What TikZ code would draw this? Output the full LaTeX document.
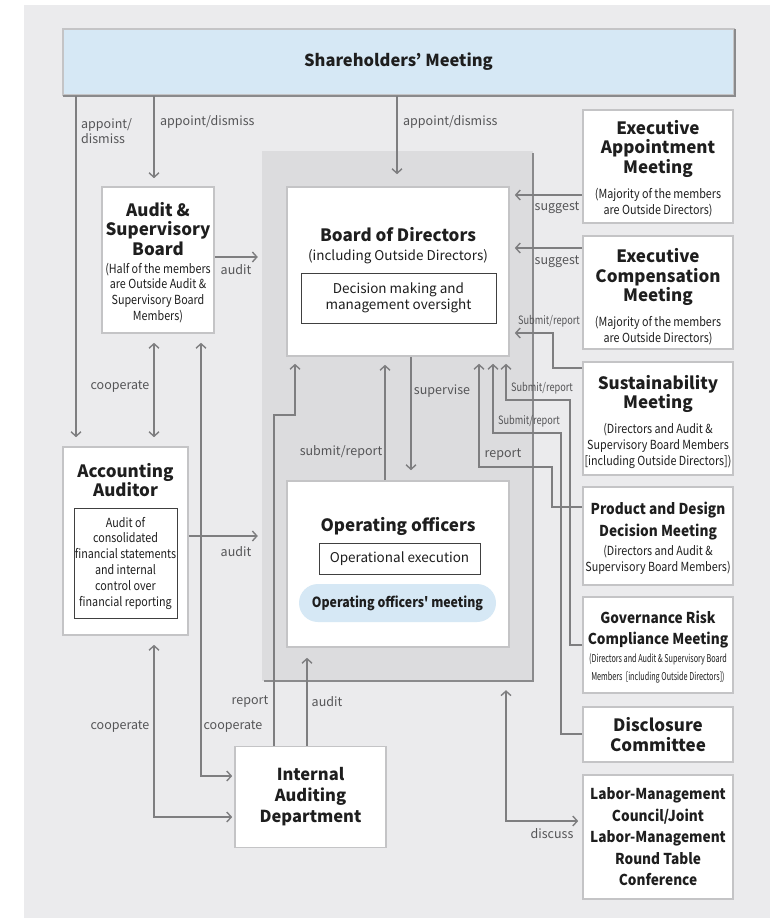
\documentclass[tikz,border=0pt]{standalone}
\usepackage{fontspec}
\setmainfont{Noto Sans CJK JP}
\newfontfamily\condfont[FakeStretch=0.86]{Noto Sans CJK JP}
\newfontfamily\tinycondfont[FakeStretch=0.67]{Noto Sans CJK JP}
\newfontfamily\lblcondfont[FakeStretch=0.8]{Noto Sans CJK JP}
\newfontfamily\midfont[FakeStretch=0.91]{Noto Sans CJK JP}
\newfontfamily\pillfont[Ligatures=TeXOff, FakeStretch=0.88]{Noto Sans CJK JP}
\usetikzlibrary{arrows.meta}
\definecolor{bgout}{HTML}{EBEBED}
\definecolor{bgin}{HTML}{DCDCDE}
\definecolor{lblue}{HTML}{D6E8F5}
\definecolor{boxline}{HTML}{C4C4C6}
\definecolor{connc}{HTML}{7E7E80}
\definecolor{shadowc}{HTML}{8A8A8C}
\definecolor{txtc}{HTML}{1E1E1E}
\definecolor{lblc}{HTML}{555557}
\newcommand\fTitle{\bfseries\fontsize{17}{19.5}\selectfont}
\newcommand\fIA{\bfseries\fontsize{16.5}{21}\selectfont}
\newcommand\fMid{\midfont\bfseries\fontsize{15}{21.5}\selectfont}
\newcommand\fSub{\condfont\fontsize{12.5}{15.8}\selectfont}
\newcommand\fTiny{\tinycondfont\fontsize{10.8}{17.5}\selectfont}
\newcommand\fLbl{\fontsize{12.5}{15}\selectfont}
\newcommand\fSmallLbl{\lblcondfont\fontsize{11.5}{14}\selectfont}
\begin{document}
\begin{tikzpicture}[x=1pt,y=-1pt,
  box/.style={draw=boxline, line width=1.6pt, fill=white, inner sep=0pt},
  ibox/.style={draw=txtc!85, line width=0.9pt, fill=white, inner sep=0pt},
  txt/.style={text=txtc, inner sep=0pt, align=center},
  lbl/.style={text=lblc, font=\fLbl, inner sep=0pt, align=left},
  slbl/.style={text=lblc, font=\fSmallLbl, inner sep=0pt},
  con/.style={draw=connc, line width=1.4pt, -{Straight Barb[length=4.5pt,width=10pt]}},
  dcon/.style={draw=connc, line width=1.4pt, {Straight Barb[length=4.5pt,width=10pt]}-{Straight Barb[length=4.5pt,width=10pt]}},
  shline/.style={draw=shadowc, line width=1.8pt}]
\useasboundingbox (0,0) rectangle (780,918);
\fill[white] (0,0) rectangle (780,918);
\fill[bgout] (24,5) rectangle (770,918);

% core grey region
\node[fill=bgin, inner sep=0pt, minimum width=271pt, minimum height=530pt] (core) at (397.5,416) {};
\draw[shline] ([xshift=2pt]core.south west) -- (core.south east) -- ([yshift=-2pt]core.north east);

% shareholders
\node[draw=boxline, fill=lblue, line width=1.2pt, inner sep=0pt, minimum width=671pt, minimum height=66pt, text=txtc, font=\bfseries\fontsize{16.5}{19}\selectfont] (sh) at (398.5,62) {Shareholders’ Meeting};
\draw[shline] ([xshift=1pt]sh.south west) -- (sh.south east) -- ([yshift=-1pt]sh.north east);

% audit & supervisory board
\node[box, minimum width=112pt, minimum height=146pt] (asb) at (158,260) {};
\node[txt, font=\fTitle] (asbT) at (158,229) {Audit \&\\Supervisory\\Board};
\node[txt, font=\fSub] (asbS) at (158,293) {(Half of the members\\are Outside Audit \&\\Supervisory Board\\Members)};

% accounting auditor
\node[box, minimum width=125pt, minimum height=188pt] (aa) at (125.5,541) {};
\node[txt, font=\fTitle] (aaT) at (125.5,480) {Accounting\\Auditor};
\node[ibox, minimum width=103pt, minimum height=110pt, txt, font=\fSub] (aaI) at (125.5,563) {Audit of\\consolidated\\financial statements\\and internal\\control over\\financial reporting};

% board of directors
\node[box, minimum width=222pt, minimum height=169pt] (bod) at (398,271.5) {};
\node[txt, font=\fTitle] (bodT) at (398,235) {Board of Directors};
\node[txt, font=\fontsize{13.5}{16}\selectfont] (bodS) at (398,257) {(including Outside Directors)};
\node[ibox, minimum width=195pt, minimum height=50pt, txt, font=\fontsize{13.5}{16.5}\selectfont] (bodI) at (398.5,298) {Decision making and\\management oversight};

% operating officers
\node[box, minimum width=222pt, minimum height=166pt] (op) at (398,564) {};
\node[txt, font=\fTitle] (opT) at (398,526) {Operating officers};
\node[ibox, minimum width=161pt, minimum height=31pt, txt, font=\fontsize{13.5}{16}\selectfont] (opI) at (399.5,558.5) {Operational execution};
\node[fill=lblue, rounded corners=19pt, minimum width=197pt, minimum height=38pt, txt, font=\pillfont\bfseries\fontsize{14}{16}\selectfont] (opM) at (397.5,603) {Operating officers' meeting};

% internal auditing
\node[box, minimum width=151pt, minimum height=101pt, txt, font=\fIA] (ia) at (310.5,797) {Internal\\Auditing\\Department};

% right column
\node[box, minimum width=150pt, minimum height=113pt] (eam) at (658,166.5) {};
\node[txt, font=\fTitle] (eamT) at (658,148.5) {Executive\\Appointment\\Meeting};
\node[txt, font=\fSub] (eamS) at (658,203) {(Majority of the members\\are Outside Directors)};

\node[box, minimum width=150pt, minimum height=113pt] (ecm) at (658,292.5) {};
\node[txt, font=\fTitle] (ecmT) at (658,277) {Executive\\Compensation\\Meeting};
\node[txt, font=\fSub] (ecmS) at (658,331) {(Majority of the members\\are Outside Directors)};

\node[box, minimum width=150pt, minimum height=113pt] (sus) at (658,418.5) {};
\node[txt, font=\fTitle] (susT) at (658,394) {Sustainability\\Meeting};
\node[txt, font=\fSub] (susS) at (658,446) {(Directors and Audit \&\\Supervisory Board Members\\{}[including Outside Directors])};

\node[box, minimum width=150pt, minimum height=98pt] (pdd) at (658,536) {};
\node[txt, font=\fMid] (pddT) at (658,521) {Product and Design\\Decision Meeting};
\node[txt, font=\fSub] (pddS) at (658,559.5) {(Directors and Audit \&\\Supervisory Board Members)};

\node[box, minimum width=150pt, minimum height=96pt] (grc) at (658,645) {};
\node[txt, font=\fMid] (grcT) at (658,629.5) {Governance Risk\\Compliance Meeting};
\node[txt, font=\fTiny] (grcS) at (658,668.5) {(Directors and Audit \& Supervisory Board\\Members\ \ {}[including Outside Directors])};

\node[box, minimum width=150pt, minimum height=55pt, txt, font=\fTitle] (dc) at (658,734.5) {Disclosure\\Committee};

\node[box, minimum width=150pt, minimum height=124pt, txt, font=\fMid] (lm) at (658,837) {Labor-Management\\Council/Joint\\Labor-Management\\Round Table\\Conference};

% helper coordinates
\coordinate (xA) at (76,0);  \coordinate (xB) at (154,0); \coordinate (xC) at (397,0);
\coordinate (xD) at (201,0); \coordinate (xE) at (274,0); \coordinate (xF) at (295,0);
\coordinate (xG) at (307,0); \coordinate (xH) at (385,0); \coordinate (xI) at (411,0);
\coordinate (xJ) at (479,0); \coordinate (xK) at (493,0); \coordinate (xL) at (506,0);
\coordinate (xM) at (553,0); \coordinate (xN) at (561,0); \coordinate (xO) at (570,0);
\coordinate (xP) at (552,0);
\coordinate (yA) at (0,257); \coordinate (yB) at (0,536); \coordinate (yC) at (0,776);
\coordinate (yD) at (0,817); \coordinate (yE) at (0,415); \coordinate (yF) at (0,195);
\coordinate (yG) at (0,248); \coordinate (yH) at (0,368); \coordinate (yI) at (0,333);
\coordinate (yJ) at (0,507); \coordinate (yK) at (0,467); \coordinate (yL) at (0,734);
\coordinate (yM) at (0,433); \coordinate (yN) at (0,645); \coordinate (yO) at (0,400);
\coordinate (yP) at (0,821);

% connectors
\draw[con, shorten >=9pt] (sh.south -| xA) -- (aa.north -| xA);
\draw[con, shorten >=8pt] (sh.south -| xB) -- (asb.north -| xB);
\draw[con, shorten >=12pt] (sh.south -| xC) -- (bod.north -| xC);
\draw[dcon, shorten <=9pt, shorten >=9pt] (asb.south -| xB) -- (aa.north -| xB);
\draw[con, shorten >=4pt] (asb.east |- yA) -- (core.west |- yA);
\draw[con, shorten >=4pt] (aa.east |- yB) -- (core.west |- yB);
\draw[dcon, shorten <=9pt, shorten >=2pt] (asb.south -| xD) -- (xD |- yC) -- (ia.west |- yC);
\draw[dcon, shorten <=9pt, shorten >=2pt] (aa.south -| xB) -- (xB |- yD) -- (ia.west |- yD);
\draw[con, shorten >=7pt] (ia.north -| xE) -- (xE |- yE) -- (xF |- yE) -- (bod.south -| xF);
\draw[con, shorten >=10pt] (ia.north -| xG) -- (op.south -| xG);
\draw[con, shorten >=8pt] (op.north -| xH) -- (bod.south -| xH);
\draw[con, shorten >=10pt] (bod.south -| xI) -- (op.north -| xI);
\draw[con, shorten >=5pt] (eam.west |- yF) -- (bod.east |- yF);
\draw[con, shorten >=5pt] (ecm.west |- yG) -- (bod.east |- yG);
\draw[con, shorten >=5pt] (sus.west |- yH) -- (xM |- yH) -- (xM |- yI) -- (bod.east |- yI);
\draw[con, shorten >=7pt] (pdd.west |- yJ) -- (xP |- yJ) -- (xP |- yK) -- (xJ |- yK) -- (bod.south -| xJ);
\draw[con, shorten >=7pt] (dc.west |- yL) -- (xN |- yL) -- (xN |- yM) -- (xK |- yM) -- (bod.south -| xK);
\draw[con, shorten >=7pt] (grc.west |- yN) -- (xO |- yN) -- (xO |- yO) -- (xL |- yO) -- (bod.south -| xL);
\draw[dcon, shorten <=9pt, shorten >=4pt] (core.south -| xL) -- (xL |- yP) -- (lm.west |- yP);

% labels
\node[lbl, anchor=west] (l1) at (81,131) {appoint/\\dismiss};
\node[lbl, anchor=west] (l2) at (160,122) {appoint/dismiss};
\node[lbl, anchor=west] (l3) at (403,122) {appoint/dismiss};
\node[lbl] (l4) at (236,270) {audit};
\node[lbl] (l5) at (120,387) {cooperate};
\node[lbl] (l6) at (236,552) {audit};
\node[lbl] (l7) at (341,452) {submit/report};
\node[lbl] (l8) at (442,391) {supervise};
\node[lbl] (l9) at (557,208) {suggest};
\node[lbl] (l10) at (557,262) {suggest};
\node[slbl] (l11) at (549,321) {Submit/report};
\node[slbl] (l12) at (542,388) {Submit/report};
\node[slbl] (l13) at (529,421) {Submit/report};
\node[lbl] (l14) at (503,455) {report};
\node[lbl] (l15) at (250,702) {report};
\node[lbl] (l16) at (327,702) {audit};
\node[lbl] (l17) at (120,727) {cooperate};
\node[lbl] (l18) at (233,727) {cooperate};
\node[lbl] (l19) at (552,834) {discuss};
\end{tikzpicture}
\end{document}
